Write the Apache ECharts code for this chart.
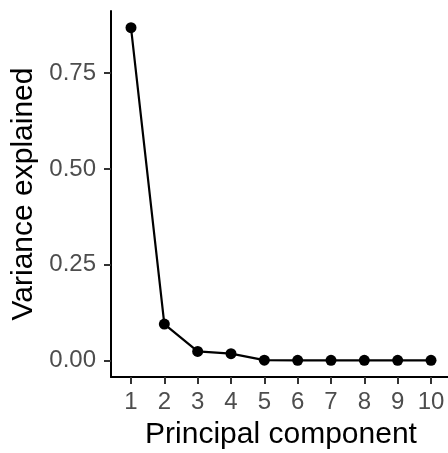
<!DOCTYPE html>
<html>
<head>
<meta charset="utf-8">
<script src="https://cdn.jsdelivr.net/npm/echarts@6/dist/echarts.min.js"></script>
<style>
  html, body { margin: 0; padding: 0; background: #fff; }
  #chart { width: 448px; height: 453px; }
</style>
</head>
<body>
<div id="chart"></div>
<script>
// Scree plot: share of variance explained by each principal component
const components = [1, 2, 3, 4, 5, 6, 7, 8, 9, 10];
const variance = [0.869, 0.0948, 0.0234, 0.0174, 0.0005, 0.0002, 0.0001, 0.0001, 0.0000, 0.0000];
const yTicks = [0, 0.25, 0.5, 0.75];
const xTicks = components;

const FONT = '"Liberation Sans", Arial, sans-serif';
const yMax = Math.max(...variance);
const yPad = yMax * 0.05;

const chart = echarts.init(document.getElementById('chart'), null, { renderer: 'canvas' });
chart.setOption({
  animation: false,
  backgroundColor: '#ffffff',
  grid: { left: 111, top: 11, right: -3, bottom: 76, containLabel: false, outerBoundsMode: 'none' },
  xAxis: {
    type: 'value',
    min: 0.4,
    max: 10.6,
    name: 'Principal component',
    nameLocation: 'middle',
    nameGap: 43,
    nameTextStyle: { fontFamily: FONT, fontSize: 30, color: '#000' },
    axisLine: { show: true, onZero: false, lineStyle: { color: '#000', width: 2 } },
    axisTick: { show: true, length: 7, customValues: xTicks, lineStyle: { color: '#333', width: 2 } },
    axisLabel: { customValues: xTicks, fontFamily: FONT, fontSize: 24, color: '#4D4D4D', margin: 13 },
    splitLine: { show: false }
  },
  yAxis: {
    type: 'value',
    min: -yPad,
    max: yMax + yPad,
    name: 'Variance explained',
    nameLocation: 'middle',
    nameGap: 70,
    nameRotate: 90,
    nameTextStyle: { fontFamily: FONT, fontSize: 30, color: '#000' },
    axisLine: { show: true, onZero: false, lineStyle: { color: '#000', width: 2 } },
    axisTick: { show: true, length: 7, customValues: yTicks, lineStyle: { color: '#333', width: 2 } },
    axisLabel: {
      customValues: yTicks,
      fontFamily: FONT, fontSize: 24, color: '#4D4D4D', margin: 15,
      formatter: v => v.toFixed(2)
    },
    splitLine: { show: false }
  },
  series: [{
    type: 'line',
    data: components.map((c, i) => [c, variance[i]]),
    symbol: 'circle',
    symbolSize: 11,
    lineStyle: { color: '#000', width: 2.2 },
    itemStyle: { color: '#000' },
    clip: false
  }]
});
</script>
</body>
</html>
